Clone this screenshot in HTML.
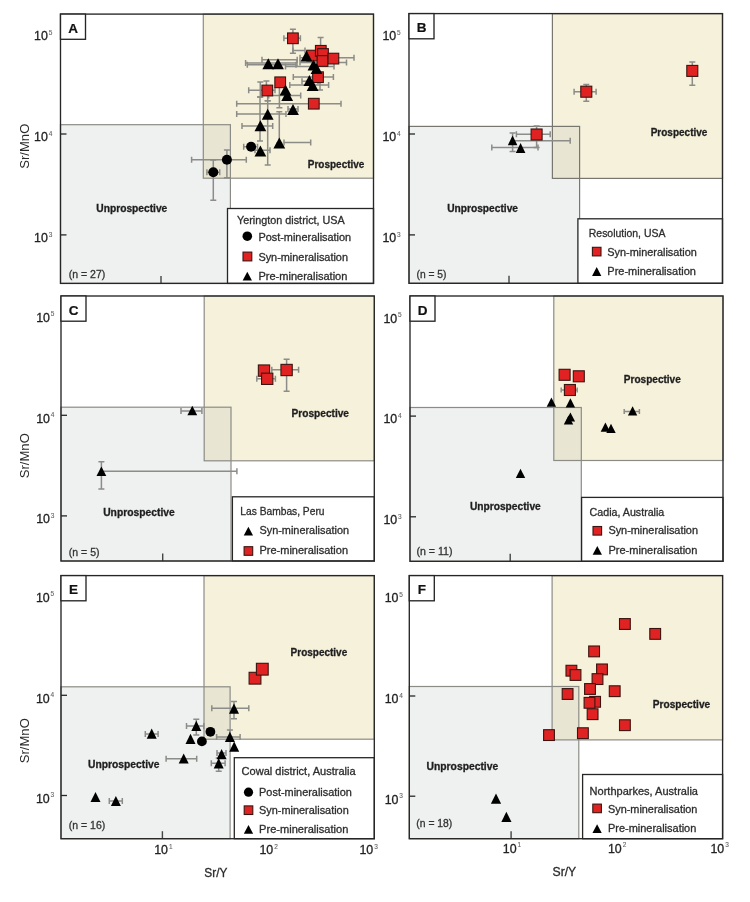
<!DOCTYPE html><html><head><meta charset="utf-8"><style>html,body{margin:0;padding:0;background:#fff;}svg{display:block;filter:blur(0.3px);}</style></head><body><svg width="750" height="902" viewBox="0 0 750 902" font-family='"Liberation Sans", sans-serif'>
<rect width="750" height="902" fill="#fff"/>
<rect x="203.3" y="14.1" width="170.2" height="164.1" fill="#f6f1db"/>
<rect x="60.5" y="124.7" width="169.9" height="158.7" fill="#eff0f0"/>
<rect x="203.3" y="124.7" width="27.099999999999994" height="53.499999999999986" fill="#e8e5d3"/>
<rect x="203.3" y="14.1" width="170.2" height="164.1" fill="none" stroke="#8c8c86" stroke-width="1.2"/>
<rect x="60.5" y="124.7" width="169.9" height="158.7" fill="none" stroke="#8c8c86" stroke-width="1.2"/>
<rect x="552.4" y="13.6" width="170.10000000000002" height="164.8" fill="#f6f1db"/>
<rect x="409" y="126.4" width="170.60000000000002" height="156.9" fill="#eff0f0"/>
<rect x="552.4" y="126.4" width="27.200000000000045" height="52.0" fill="#e8e5d3"/>
<rect x="552.4" y="13.6" width="170.10000000000002" height="164.8" fill="none" stroke="#77776f" stroke-width="1.2"/>
<rect x="409" y="126.4" width="170.60000000000002" height="156.9" fill="none" stroke="#77776f" stroke-width="1.2"/>
<rect x="204.2" y="296" width="170.10000000000002" height="164.8" fill="#f6f1db"/>
<rect x="61" y="407.2" width="170" height="153.8" fill="#eff0f0"/>
<rect x="204.2" y="407.2" width="26.80000000000001" height="53.60000000000002" fill="#e8e5d3"/>
<rect x="204.2" y="296" width="170.10000000000002" height="164.8" fill="none" stroke="#8c8c86" stroke-width="1.2"/>
<rect x="61" y="407.2" width="170" height="153.8" fill="none" stroke="#8c8c86" stroke-width="1.2"/>
<rect x="553.8" y="296" width="169.20000000000005" height="164.5" fill="#f6f1db"/>
<rect x="410" y="407.5" width="171.29999999999995" height="153.79999999999995" fill="#eff0f0"/>
<rect x="553.8" y="407.5" width="27.5" height="53.0" fill="#e8e5d3"/>
<rect x="553.8" y="296" width="169.20000000000005" height="164.5" fill="none" stroke="#8c8c86" stroke-width="1.2"/>
<rect x="410" y="407.5" width="171.29999999999995" height="153.79999999999995" fill="none" stroke="#8c8c86" stroke-width="1.2"/>
<rect x="204" y="575.6" width="170.3" height="163.60000000000002" fill="#f6f1db"/>
<rect x="61" y="686.8" width="169.1" height="151.9000000000001" fill="#eff0f0"/>
<rect x="204" y="686.8" width="26.099999999999994" height="52.40000000000009" fill="#e8e5d3"/>
<rect x="204" y="575.6" width="170.3" height="163.60000000000002" fill="none" stroke="#8c8c86" stroke-width="1.2"/>
<rect x="61" y="686.8" width="169.1" height="151.9000000000001" fill="none" stroke="#8c8c86" stroke-width="1.2"/>
<rect x="552.1" y="575.6" width="170.5" height="164.29999999999995" fill="#f6f1db"/>
<rect x="409.3" y="686.5" width="169.49999999999994" height="152.20000000000005" fill="#eff0f0"/>
<rect x="552.1" y="686.5" width="26.699999999999932" height="53.39999999999998" fill="#e8e5d3"/>
<rect x="552.1" y="575.6" width="170.5" height="164.29999999999995" fill="none" stroke="#8c8c86" stroke-width="1.2"/>
<rect x="409.3" y="686.5" width="169.49999999999994" height="152.20000000000005" fill="none" stroke="#8c8c86" stroke-width="1.2"/>
<path d="M283.9 38.3H300.4M283.9 35.3V41.3M300.4 35.3V41.3" stroke="#8c8c88" stroke-width="1.5" fill="none"/>
<path d="M245.6 63.0H297M245.6 60.0V66.0M297 60.0V66.0" stroke="#8c8c88" stroke-width="1.5" fill="none"/>
<path d="M247.3 64.7H296M247.3 61.7V67.7M296 61.7V67.7" stroke="#8c8c88" stroke-width="1.5" fill="none"/>
<path d="M262 59.7H297.2M262 56.7V62.7M297.2 56.7V62.7" stroke="#8c8c88" stroke-width="1.5" fill="none"/>
<path d="M285.5 66.5H334M285.5 63.5V69.5M334 63.5V69.5" stroke="#8c8c88" stroke-width="1.5" fill="none"/>
<path d="M300 57.8H354M300 54.8V60.8M354 54.8V60.8" stroke="#8c8c88" stroke-width="1.5" fill="none"/>
<path d="M300 62.5H346.5M300 59.5V65.5M346.5 59.5V65.5" stroke="#8c8c88" stroke-width="1.5" fill="none"/>
<path d="M293.3 77H333.4M293.3 74V80M333.4 74V80" stroke="#8c8c88" stroke-width="1.5" fill="none"/>
<path d="M302 81.2H318M302 78.2V84.2M318 78.2V84.2" stroke="#8c8c88" stroke-width="1.5" fill="none"/>
<path d="M289.8 85H328.6M289.8 82V88M328.6 82V88" stroke="#8c8c88" stroke-width="1.5" fill="none"/>
<path d="M248.7 90.3H275M248.7 87.3V93.3M275 87.3V93.3" stroke="#8c8c88" stroke-width="1.5" fill="none"/>
<path d="M268.7 95.4H300.7M268.7 92.4V98.4M300.7 92.4V98.4" stroke="#8c8c88" stroke-width="1.5" fill="none"/>
<path d="M236.7 103.7H341M236.7 100.7V106.7M341 100.7V106.7" stroke="#8c8c88" stroke-width="1.5" fill="none"/>
<path d="M236.7 114H286M236.7 111V117M286 111V117" stroke="#8c8c88" stroke-width="1.5" fill="none"/>
<path d="M242 126H272.7M242 123V129M272.7 123V129" stroke="#8c8c88" stroke-width="1.5" fill="none"/>
<path d="M284 142.6H310.7M284 139.6V145.6M310.7 139.6V145.6" stroke="#8c8c88" stroke-width="1.5" fill="none"/>
<path d="M191.6 159.7H246.3M191.6 156.7V162.7M246.3 156.7V162.7" stroke="#8c8c88" stroke-width="1.5" fill="none"/>
<path d="M206.9 172.3H219.7M206.9 169.3V175.3M219.7 169.3V175.3" stroke="#8c8c88" stroke-width="1.5" fill="none"/>
<path d="M243.7 146.7H257.5M243.7 143.7V149.7M257.5 143.7V149.7" stroke="#8c8c88" stroke-width="1.5" fill="none"/>
<path d="M255 150.3H270M255 147.3V153.3M270 147.3V153.3" stroke="#8c8c88" stroke-width="1.5" fill="none"/>
<path d="M288 109H298M288 106V112M298 106V112" stroke="#8c8c88" stroke-width="1.5" fill="none"/>
<path d="M293 50.6H305M293 47.6V53.6M305 47.6V53.6" stroke="#8c8c88" stroke-width="1.5" fill="none"/>
<path d="M292.9 29.3V53.3M289.9 29.3H295.9M289.9 53.3H295.9" stroke="#8c8c88" stroke-width="1.5" fill="none"/>
<path d="M320.6 37.5V52M317.6 37.5H323.6M317.6 52H323.6" stroke="#8c8c88" stroke-width="1.5" fill="none"/>
<path d="M279.4 81V107.7M276.4 81H282.4M276.4 107.7H282.4" stroke="#8c8c88" stroke-width="1.5" fill="none"/>
<path d="M267.7 90V100.7M264.7 90H270.7M264.7 100.7H270.7" stroke="#8c8c88" stroke-width="1.5" fill="none"/>
<path d="M266.4 81V92M263.4 81H269.4M263.4 92H269.4" stroke="#8c8c88" stroke-width="1.5" fill="none"/>
<path d="M267.7 100.7V165M264.7 100.7H270.7M264.7 165H270.7" stroke="#8c8c88" stroke-width="1.5" fill="none"/>
<path d="M260 97V141M257 97H263M257 141H263" stroke="#8c8c88" stroke-width="1.5" fill="none"/>
<path d="M279.3 111.7V143M276.3 111.7H282.3M276.3 143H282.3" stroke="#8c8c88" stroke-width="1.5" fill="none"/>
<path d="M213.3 160V200.3M210.3 160H216.3M210.3 200.3H216.3" stroke="#8c8c88" stroke-width="1.5" fill="none"/>
<path d="M226.9 149.9V177.7M223.9 149.9H229.9M223.9 177.7H229.9" stroke="#8c8c88" stroke-width="1.5" fill="none"/>
<path d="M320 82V90M317 82H323M317 90H323" stroke="#8c8c88" stroke-width="1.5" fill="none"/>
<path d="M260.3 82V97M257.3 82H263.3M257.3 97H263.3" stroke="#8c8c88" stroke-width="1.5" fill="none"/>
<circle cx="213.3" cy="172.3" r="5" fill="#000"/>
<circle cx="226.9" cy="159.7" r="5" fill="#000"/>
<circle cx="251.1" cy="146.7" r="5" fill="#000"/>
<rect x="287.54999999999995" y="32.949999999999996" width="10.7" height="10.7" fill="#e02322" stroke="#3a1410" stroke-width="1.1"/>
<rect x="274.84999999999997" y="76.95" width="10.7" height="10.7" fill="#e02322" stroke="#3a1410" stroke-width="1.1"/>
<rect x="261.95" y="85.15" width="10.7" height="10.7" fill="#e02322" stroke="#3a1410" stroke-width="1.1"/>
<rect x="308.45" y="98.35000000000001" width="10.7" height="10.7" fill="#e02322" stroke="#3a1410" stroke-width="1.1"/>
<rect x="312.65" y="71.85000000000001" width="10.7" height="10.7" fill="#e02322" stroke="#3a1410" stroke-width="1.1"/>
<rect x="306.75" y="50.25" width="10.7" height="10.7" fill="#e02322" stroke="#3a1410" stroke-width="1.1"/>
<rect x="315.45" y="45.449999999999996" width="10.7" height="10.7" fill="#e02322" stroke="#3a1410" stroke-width="1.1"/>
<rect x="317.65" y="48.65" width="10.7" height="10.7" fill="#e02322" stroke="#3a1410" stroke-width="1.1"/>
<rect x="317.15" y="55.65" width="10.7" height="10.7" fill="#e02322" stroke="#3a1410" stroke-width="1.1"/>
<rect x="328.04999999999995" y="53.25" width="10.7" height="10.7" fill="#e02322" stroke="#3a1410" stroke-width="1.1"/>
<polygon points="262.40000000000003,69.2 274.2,69.2 268.3,58.2" fill="#000"/>
<polygon points="272.1,69.2 283.9,69.2 278,58.2" fill="#000"/>
<polygon points="300.6,61.5 312.4,61.5 306.5,50.5" fill="#000"/>
<polygon points="307.6,70.5 319.4,70.5 313.5,59.5" fill="#000"/>
<polygon points="310.6,74.0 322.4,74.0 316.5,63.0" fill="#000"/>
<polygon points="303.5,86.0 315.29999999999995,86.0 309.4,75.0" fill="#000"/>
<polygon points="306.70000000000005,90.9 318.5,90.9 312.6,79.9" fill="#000"/>
<polygon points="279.6,95.5 291.4,95.5 285.5,84.5" fill="#000"/>
<polygon points="281.3,101.0 293.09999999999997,101.0 287.2,90.0" fill="#000"/>
<polygon points="287.1,115.0 298.9,115.0 293,104.0" fill="#000"/>
<polygon points="261.8,119.8 273.59999999999997,119.8 267.7,108.8" fill="#000"/>
<polygon points="254.49999999999997,131.3 266.29999999999995,131.3 260.4,120.3" fill="#000"/>
<polygon points="254.49999999999997,156.5 266.29999999999995,156.5 260.4,145.5" fill="#000"/>
<polygon points="273.40000000000003,148.5 285.2,148.5 279.3,137.5" fill="#000"/>
<path d="M574.1 91.7H596.1M574.1 88.7V94.7M596.1 88.7V94.7" stroke="#8c8c88" stroke-width="1.5" fill="none"/>
<path d="M516.4 134.2H550.2M516.4 131.2V137.2M550.2 131.2V137.2" stroke="#8c8c88" stroke-width="1.5" fill="none"/>
<path d="M512 140.8H570.2M512 137.8V143.8M570.2 137.8V143.8" stroke="#8c8c88" stroke-width="1.5" fill="none"/>
<path d="M491.8 147.4H538M491.8 144.4V150.4M538 144.4V150.4" stroke="#8c8c88" stroke-width="1.5" fill="none"/>
<path d="M586.3 84.5V101.3M583.3 84.5H589.3M583.3 101.3H589.3" stroke="#8c8c88" stroke-width="1.5" fill="none"/>
<path d="M692.3 62.1V85.2M689.3 62.1H695.3M689.3 85.2H695.3" stroke="#8c8c88" stroke-width="1.5" fill="none"/>
<path d="M536.6 126V147.4M533.6 126H539.6M533.6 147.4H539.6" stroke="#8c8c88" stroke-width="1.5" fill="none"/>
<path d="M512.6 133V151.6M509.6 133H515.6M509.6 151.6H515.6" stroke="#8c8c88" stroke-width="1.5" fill="none"/>
<rect x="580.8" y="86.2" width="11" height="11" fill="#e02322" stroke="#3a1410" stroke-width="1.1"/>
<rect x="686.8" y="65.4" width="11" height="11" fill="#e02322" stroke="#3a1410" stroke-width="1.1"/>
<rect x="531.1" y="129.0" width="11" height="11" fill="#e02322" stroke="#3a1410" stroke-width="1.1"/>
<polygon points="507.8,145.20000000000002 517.4,145.20000000000002 512.6,135.4" fill="#000"/>
<polygon points="515.8000000000001,152.9 525.4,152.9 520.6,143.1" fill="#000"/>
<path d="M256.8 378.8H275.4M256.8 375.8V381.8M275.4 375.8V381.8" stroke="#8c8c88" stroke-width="1.5" fill="none"/>
<path d="M271.8 369.8H298.6M271.8 366.8V372.8M298.6 366.8V372.8" stroke="#8c8c88" stroke-width="1.5" fill="none"/>
<path d="M181 411H201.9M181 408V414M201.9 408V414" stroke="#8c8c88" stroke-width="1.5" fill="none"/>
<path d="M101 471.2H236.9M101 468.2V474.2M236.9 468.2V474.2" stroke="#8c8c88" stroke-width="1.5" fill="none"/>
<path d="M286.6 359.2V391.2M283.6 359.2H289.6M283.6 391.2H289.6" stroke="#8c8c88" stroke-width="1.5" fill="none"/>
<path d="M101.4 461.8V488.9M98.4 461.8H104.4M98.4 488.9H104.4" stroke="#8c8c88" stroke-width="1.5" fill="none"/>
<rect x="258.35" y="364.95000000000005" width="11.3" height="11.3" fill="#e02322" stroke="#3a1410" stroke-width="1.1"/>
<rect x="261.55" y="373.15000000000003" width="11.3" height="11.3" fill="#e02322" stroke="#3a1410" stroke-width="1.1"/>
<rect x="280.95000000000005" y="364.35" width="11.3" height="11.3" fill="#e02322" stroke="#3a1410" stroke-width="1.1"/>
<polygon points="187.4,415.3 197.20000000000002,415.3 192.3,405.7" fill="#000"/>
<polygon points="96.5,476.1 106.30000000000001,476.1 101.4,466.5" fill="#000"/>
<path d="M561.2 390H577.2M561.2 387.5V392.5M577.2 387.5V392.5" stroke="#8c8c88" stroke-width="1.5" fill="none"/>
<path d="M624.2 411.4H639.4M624.2 408.9V413.9M639.4 408.9V413.9" stroke="#8c8c88" stroke-width="1.5" fill="none"/>
<rect x="559.1" y="369.3" width="11" height="11" fill="#e02322" stroke="#3a1410" stroke-width="1.1"/>
<rect x="573.3" y="370.8" width="11" height="11" fill="#e02322" stroke="#3a1410" stroke-width="1.1"/>
<rect x="564.4" y="384.5" width="11" height="11" fill="#e02322" stroke="#3a1410" stroke-width="1.1"/>
<polygon points="546.6999999999999,406.70000000000005 556.1,406.70000000000005 551.4,397.5" fill="#000"/>
<polygon points="565.6999999999999,407.5 575.1,407.5 570.4,398.29999999999995" fill="#000"/>
<polygon points="565.6999999999999,421.6 575.1,421.6 570.4,412.4" fill="#000"/>
<polygon points="563.8,424.6 573.2,424.6 568.5,415.4" fill="#000"/>
<polygon points="627.9,415.40000000000003 637.3000000000001,415.40000000000003 632.6,406.2" fill="#000"/>
<polygon points="600.6999999999999,431.8 610.1,431.8 605.4,422.59999999999997" fill="#000"/>
<polygon points="606.3,433.0 615.7,433.0 611,423.79999999999995" fill="#000"/>
<polygon points="515.8,477.90000000000003 525.2,477.90000000000003 520.5,468.7" fill="#000"/>
<path d="M211.8 708.3H248.8M211.8 705.3V711.3M248.8 705.3V711.3" stroke="#8c8c88" stroke-width="1.5" fill="none"/>
<path d="M186.5 726.1H203.8M186.5 723.1V729.1M203.8 723.1V729.1" stroke="#8c8c88" stroke-width="1.5" fill="none"/>
<path d="M216.6 737.1H240.1M216.6 734.1V740.1M240.1 734.1V740.1" stroke="#8c8c88" stroke-width="1.5" fill="none"/>
<path d="M217 753H226M217 750V756M226 750V756" stroke="#8c8c88" stroke-width="1.5" fill="none"/>
<path d="M211.3 763.3H225.1M211.3 760.3V766.3M225.1 760.3V766.3" stroke="#8c8c88" stroke-width="1.5" fill="none"/>
<path d="M166.1 758.7H196.7M166.1 755.7V761.7M196.7 755.7V761.7" stroke="#8c8c88" stroke-width="1.5" fill="none"/>
<path d="M145.3 733.9H158.1M145.3 730.9V736.9M158.1 730.9V736.9" stroke="#8c8c88" stroke-width="1.5" fill="none"/>
<path d="M109.3 801H122.3M109.3 798V804M122.3 798V804" stroke="#8c8c88" stroke-width="1.5" fill="none"/>
<path d="M234 701.4V718.7M231 701.4H237M231 718.7H237" stroke="#8c8c88" stroke-width="1.5" fill="none"/>
<path d="M196.3 719.3V735M193.3 719.3H199.3M193.3 735H199.3" stroke="#8c8c88" stroke-width="1.5" fill="none"/>
<path d="M218.7 758V771.3M215.7 758H221.7M215.7 771.3H221.7" stroke="#8c8c88" stroke-width="1.5" fill="none"/>
<path d="M229.9 730V737M226.9 730H232.9M226.9 737H232.9" stroke="#8c8c88" stroke-width="1.5" fill="none"/>
<rect x="249.1" y="672.3000000000001" width="11.8" height="11.8" fill="#e02322" stroke="#3a1410" stroke-width="1.1"/>
<rect x="256.40000000000003" y="663.3000000000001" width="11.8" height="11.8" fill="#e02322" stroke="#3a1410" stroke-width="1.1"/>
<circle cx="210.4" cy="731.8" r="4.9" fill="#000"/>
<circle cx="201.9" cy="741.4" r="4.9" fill="#000"/>
<polygon points="229.0,713.7 239.0,713.7 234,703.5" fill="#000"/>
<polygon points="191.3,731.0 201.3,731.0 196.3,720.8" fill="#000"/>
<polygon points="185.5,744.0 195.5,744.0 190.5,733.8" fill="#000"/>
<polygon points="224.9,741.9 234.9,741.9 229.9,731.6999999999999" fill="#000"/>
<polygon points="229.2,751.8000000000001 239.2,751.8000000000001 234.2,741.6" fill="#000"/>
<polygon points="216.6,759.3000000000001 226.6,759.3000000000001 221.6,749.1" fill="#000"/>
<polygon points="213.7,768.4 223.7,768.4 218.7,758.1999999999999" fill="#000"/>
<polygon points="178.7,763.6 188.7,763.6 183.7,753.4" fill="#000"/>
<polygon points="146.7,738.7 156.7,738.7 151.7,728.5" fill="#000"/>
<polygon points="90.5,802.1 100.5,802.1 95.5,791.9" fill="#000"/>
<polygon points="110.9,806.1 120.9,806.1 115.9,795.9" fill="#000"/>
<rect x="619.5" y="618.6" width="10.8" height="10.8" fill="#e02322" stroke="#3a1410" stroke-width="1.1"/>
<rect x="649.8000000000001" y="628.5" width="10.8" height="10.8" fill="#e02322" stroke="#3a1410" stroke-width="1.1"/>
<rect x="588.7" y="646.0" width="10.8" height="10.8" fill="#e02322" stroke="#3a1410" stroke-width="1.1"/>
<rect x="566.0" y="665.3000000000001" width="10.8" height="10.8" fill="#e02322" stroke="#3a1410" stroke-width="1.1"/>
<rect x="570.1" y="669.6" width="10.8" height="10.8" fill="#e02322" stroke="#3a1410" stroke-width="1.1"/>
<rect x="596.6" y="664.0" width="10.8" height="10.8" fill="#e02322" stroke="#3a1410" stroke-width="1.1"/>
<rect x="592.1" y="673.7" width="10.8" height="10.8" fill="#e02322" stroke="#3a1410" stroke-width="1.1"/>
<rect x="584.6" y="683.6" width="10.8" height="10.8" fill="#e02322" stroke="#3a1410" stroke-width="1.1"/>
<rect x="609.3000000000001" y="685.8000000000001" width="10.8" height="10.8" fill="#e02322" stroke="#3a1410" stroke-width="1.1"/>
<rect x="562.2" y="688.6" width="10.8" height="10.8" fill="#e02322" stroke="#3a1410" stroke-width="1.1"/>
<rect x="589.7" y="696.4" width="10.8" height="10.8" fill="#e02322" stroke="#3a1410" stroke-width="1.1"/>
<rect x="584.1" y="697.4" width="10.8" height="10.8" fill="#e02322" stroke="#3a1410" stroke-width="1.1"/>
<rect x="587.2" y="708.8000000000001" width="10.8" height="10.8" fill="#e02322" stroke="#3a1410" stroke-width="1.1"/>
<rect x="619.5" y="719.8000000000001" width="10.8" height="10.8" fill="#e02322" stroke="#3a1410" stroke-width="1.1"/>
<rect x="543.6" y="729.7" width="10.8" height="10.8" fill="#e02322" stroke="#3a1410" stroke-width="1.1"/>
<rect x="577.5" y="727.8000000000001" width="10.8" height="10.8" fill="#e02322" stroke="#3a1410" stroke-width="1.1"/>
<polygon points="490.9,803.7 501.1,803.7 496,793.5" fill="#000"/>
<polygon points="501.29999999999995,822.0 511.5,822.0 506.4,811.8" fill="#000"/>
<line x1="60.5" y1="33.1" x2="66.5" y2="33.1" stroke="#262626" stroke-width="1.3"/>
<line x1="60.5" y1="134" x2="66.5" y2="134" stroke="#262626" stroke-width="1.3"/>
<line x1="60.5" y1="234.9" x2="66.5" y2="234.9" stroke="#262626" stroke-width="1.3"/>
<line x1="161" y1="283.4" x2="161" y2="275.9" stroke="#444" stroke-width="1.4"/>
<rect x="227.5" y="208.5" width="146.0" height="74.89999999999998" fill="#fff" stroke="#262626" stroke-width="1.3"/>
<rect x="60.5" y="14.1" width="313.0" height="269.29999999999995" fill="none" stroke="#262626" stroke-width="1.35"/>
<rect x="60.5" y="14.1" width="25" height="25.2" fill="#fff" stroke="#262626" stroke-width="1.35"/>
<text x="73.1" y="32.7" font-size="13.5" font-weight="bold" fill="#111" stroke="#111" stroke-width="0.2" text-anchor="middle">A</text>
<text x="34.1" y="40.4" font-size="12.8" fill="#222" stroke="#222" stroke-width="0.3" textLength="13.8" lengthAdjust="spacingAndGlyphs" text-anchor="start">10</text>
<text x="48.7" y="34.9" font-size="6.5" fill="#666" stroke="#666" stroke-width="0.1" text-anchor="start">5</text>
<text x="34.1" y="141.3" font-size="12.8" fill="#222" stroke="#222" stroke-width="0.3" textLength="13.8" lengthAdjust="spacingAndGlyphs" text-anchor="start">10</text>
<text x="48.7" y="135.8" font-size="6.5" fill="#666" stroke="#666" stroke-width="0.1" text-anchor="start">4</text>
<text x="34.1" y="242.20000000000002" font-size="12.8" fill="#222" stroke="#222" stroke-width="0.3" textLength="13.8" lengthAdjust="spacingAndGlyphs" text-anchor="start">10</text>
<text x="48.7" y="236.70000000000002" font-size="6.5" fill="#666" stroke="#666" stroke-width="0.1" text-anchor="start">3</text>
<line x1="409" y1="33.1" x2="415" y2="33.1" stroke="#262626" stroke-width="1.3"/>
<line x1="409" y1="134" x2="415" y2="134" stroke="#262626" stroke-width="1.3"/>
<line x1="409" y1="234.9" x2="415" y2="234.9" stroke="#262626" stroke-width="1.3"/>
<line x1="509" y1="283.3" x2="509" y2="275.8" stroke="#444" stroke-width="1.4"/>
<rect x="577.9" y="218.8" width="144.60000000000002" height="64.5" fill="#fff" stroke="#262626" stroke-width="1.3"/>
<rect x="409" y="13.6" width="313.5" height="269.7" fill="none" stroke="#262626" stroke-width="1.35"/>
<rect x="409" y="13.6" width="25" height="25.2" fill="#fff" stroke="#262626" stroke-width="1.35"/>
<text x="421.6" y="32.2" font-size="13.5" font-weight="bold" fill="#111" stroke="#111" stroke-width="0.2" text-anchor="middle">B</text>
<text x="382.4" y="40.4" font-size="12.8" fill="#222" stroke="#222" stroke-width="0.3" textLength="13.8" lengthAdjust="spacingAndGlyphs" text-anchor="start">10</text>
<text x="397" y="34.9" font-size="6.5" fill="#666" stroke="#666" stroke-width="0.1" text-anchor="start">5</text>
<text x="382.4" y="141.3" font-size="12.8" fill="#222" stroke="#222" stroke-width="0.3" textLength="13.8" lengthAdjust="spacingAndGlyphs" text-anchor="start">10</text>
<text x="397" y="135.8" font-size="6.5" fill="#666" stroke="#666" stroke-width="0.1" text-anchor="start">4</text>
<text x="382.4" y="242.20000000000002" font-size="12.8" fill="#222" stroke="#222" stroke-width="0.3" textLength="13.8" lengthAdjust="spacingAndGlyphs" text-anchor="start">10</text>
<text x="397" y="236.70000000000002" font-size="6.5" fill="#666" stroke="#666" stroke-width="0.1" text-anchor="start">3</text>
<line x1="61" y1="314.6" x2="67" y2="314.6" stroke="#262626" stroke-width="1.3"/>
<line x1="61" y1="415.3" x2="67" y2="415.3" stroke="#262626" stroke-width="1.3"/>
<line x1="61" y1="515.9" x2="67" y2="515.9" stroke="#262626" stroke-width="1.3"/>
<line x1="162.7" y1="561" x2="162.7" y2="553.5" stroke="#444" stroke-width="1.4"/>
<rect x="232.4" y="496.8" width="141.9" height="64.19999999999999" fill="#fff" stroke="#262626" stroke-width="1.3"/>
<rect x="61" y="296" width="313.3" height="265" fill="none" stroke="#262626" stroke-width="1.35"/>
<rect x="61" y="296" width="25" height="25.2" fill="#fff" stroke="#262626" stroke-width="1.35"/>
<text x="73.6" y="314.6" font-size="13.5" font-weight="bold" fill="#111" stroke="#111" stroke-width="0.2" text-anchor="middle">C</text>
<text x="36.199999999999996" y="321.90000000000003" font-size="12.8" fill="#222" stroke="#222" stroke-width="0.3" textLength="13.8" lengthAdjust="spacingAndGlyphs" text-anchor="start">10</text>
<text x="50.8" y="316.40000000000003" font-size="6.5" fill="#666" stroke="#666" stroke-width="0.1" text-anchor="start">5</text>
<text x="36.199999999999996" y="422.6" font-size="12.8" fill="#222" stroke="#222" stroke-width="0.3" textLength="13.8" lengthAdjust="spacingAndGlyphs" text-anchor="start">10</text>
<text x="50.8" y="417.1" font-size="6.5" fill="#666" stroke="#666" stroke-width="0.1" text-anchor="start">4</text>
<text x="36.199999999999996" y="523.1999999999999" font-size="12.8" fill="#222" stroke="#222" stroke-width="0.3" textLength="13.8" lengthAdjust="spacingAndGlyphs" text-anchor="start">10</text>
<text x="50.8" y="517.6999999999999" font-size="6.5" fill="#666" stroke="#666" stroke-width="0.1" text-anchor="start">3</text>
<line x1="410" y1="315.2" x2="416" y2="315.2" stroke="#262626" stroke-width="1.3"/>
<line x1="410" y1="416.1" x2="416" y2="416.1" stroke="#262626" stroke-width="1.3"/>
<line x1="410" y1="516.8" x2="416" y2="516.8" stroke="#262626" stroke-width="1.3"/>
<line x1="510.2" y1="561.3" x2="510.2" y2="553.8" stroke="#444" stroke-width="1.4"/>
<rect x="581.6" y="497.4" width="141.39999999999998" height="63.89999999999998" fill="#fff" stroke="#262626" stroke-width="1.3"/>
<rect x="410" y="296" width="313" height="265.29999999999995" fill="none" stroke="#262626" stroke-width="1.35"/>
<rect x="410" y="296" width="25" height="25.2" fill="#fff" stroke="#262626" stroke-width="1.35"/>
<text x="422.6" y="314.6" font-size="13.5" font-weight="bold" fill="#111" stroke="#111" stroke-width="0.2" text-anchor="middle">D</text>
<text x="383.4" y="322.5" font-size="12.8" fill="#222" stroke="#222" stroke-width="0.3" textLength="13.8" lengthAdjust="spacingAndGlyphs" text-anchor="start">10</text>
<text x="398" y="317.0" font-size="6.5" fill="#666" stroke="#666" stroke-width="0.1" text-anchor="start">5</text>
<text x="383.4" y="423.40000000000003" font-size="12.8" fill="#222" stroke="#222" stroke-width="0.3" textLength="13.8" lengthAdjust="spacingAndGlyphs" text-anchor="start">10</text>
<text x="398" y="417.90000000000003" font-size="6.5" fill="#666" stroke="#666" stroke-width="0.1" text-anchor="start">4</text>
<text x="383.4" y="524.0999999999999" font-size="12.8" fill="#222" stroke="#222" stroke-width="0.3" textLength="13.8" lengthAdjust="spacingAndGlyphs" text-anchor="start">10</text>
<text x="398" y="518.5999999999999" font-size="6.5" fill="#666" stroke="#666" stroke-width="0.1" text-anchor="start">3</text>
<line x1="61" y1="594.5" x2="67" y2="594.5" stroke="#262626" stroke-width="1.3"/>
<line x1="61" y1="695.3" x2="67" y2="695.3" stroke="#262626" stroke-width="1.3"/>
<line x1="61" y1="795.5" x2="67" y2="795.5" stroke="#262626" stroke-width="1.3"/>
<line x1="162.4" y1="838.7" x2="162.4" y2="831.2" stroke="#444" stroke-width="1.4"/>
<rect x="234.3" y="757.7" width="140.0" height="81.0" fill="#fff" stroke="#262626" stroke-width="1.3"/>
<rect x="61" y="575.6" width="313.3" height="263.1" fill="none" stroke="#262626" stroke-width="1.35"/>
<rect x="61" y="575.6" width="25" height="25.2" fill="#fff" stroke="#262626" stroke-width="1.35"/>
<text x="73.6" y="594.2" font-size="13.5" font-weight="bold" fill="#111" stroke="#111" stroke-width="0.2" text-anchor="middle">E</text>
<text x="35.9" y="601.8" font-size="12.8" fill="#222" stroke="#222" stroke-width="0.3" textLength="13.8" lengthAdjust="spacingAndGlyphs" text-anchor="start">10</text>
<text x="50.5" y="596.3" font-size="6.5" fill="#666" stroke="#666" stroke-width="0.1" text-anchor="start">5</text>
<text x="35.9" y="702.5999999999999" font-size="12.8" fill="#222" stroke="#222" stroke-width="0.3" textLength="13.8" lengthAdjust="spacingAndGlyphs" text-anchor="start">10</text>
<text x="50.5" y="697.0999999999999" font-size="6.5" fill="#666" stroke="#666" stroke-width="0.1" text-anchor="start">4</text>
<text x="35.9" y="802.8" font-size="12.8" fill="#222" stroke="#222" stroke-width="0.3" textLength="13.8" lengthAdjust="spacingAndGlyphs" text-anchor="start">10</text>
<text x="50.5" y="797.3" font-size="6.5" fill="#666" stroke="#666" stroke-width="0.1" text-anchor="start">3</text>
<line x1="409.3" y1="595" x2="415.3" y2="595" stroke="#262626" stroke-width="1.3"/>
<line x1="409.3" y1="696" x2="415.3" y2="696" stroke="#262626" stroke-width="1.3"/>
<line x1="409.3" y1="796.2" x2="415.3" y2="796.2" stroke="#262626" stroke-width="1.3"/>
<line x1="511.1" y1="838.7" x2="511.1" y2="831.2" stroke="#444" stroke-width="1.4"/>
<rect x="582.6" y="774.5" width="140.0" height="64.20000000000005" fill="#fff" stroke="#262626" stroke-width="1.3"/>
<rect x="409.3" y="575.6" width="313.3" height="263.1" fill="none" stroke="#262626" stroke-width="1.35"/>
<rect x="409.3" y="575.6" width="25" height="25.2" fill="#fff" stroke="#262626" stroke-width="1.35"/>
<text x="421.90000000000003" y="594.2" font-size="13.5" font-weight="bold" fill="#111" stroke="#111" stroke-width="0.2" text-anchor="middle">F</text>
<text x="384.7" y="602.3" font-size="12.8" fill="#222" stroke="#222" stroke-width="0.3" textLength="13.8" lengthAdjust="spacingAndGlyphs" text-anchor="start">10</text>
<text x="399.3" y="596.8" font-size="6.5" fill="#666" stroke="#666" stroke-width="0.1" text-anchor="start">5</text>
<text x="384.7" y="703.3" font-size="12.8" fill="#222" stroke="#222" stroke-width="0.3" textLength="13.8" lengthAdjust="spacingAndGlyphs" text-anchor="start">10</text>
<text x="399.3" y="697.8" font-size="6.5" fill="#666" stroke="#666" stroke-width="0.1" text-anchor="start">4</text>
<text x="384.7" y="803.5" font-size="12.8" fill="#222" stroke="#222" stroke-width="0.3" textLength="13.8" lengthAdjust="spacingAndGlyphs" text-anchor="start">10</text>
<text x="399.3" y="798.0" font-size="6.5" fill="#666" stroke="#666" stroke-width="0.1" text-anchor="start">3</text>
<text x="307.8" y="167.8" font-size="10.2" font-weight="bold" fill="#1e1e1e" stroke="#1e1e1e" stroke-width="0.3" textLength="56.6" lengthAdjust="spacingAndGlyphs" text-anchor="start">Prospective</text>
<text x="96.3" y="211.7" font-size="10.2" font-weight="bold" fill="#1e1e1e" stroke="#1e1e1e" stroke-width="0.3" textLength="71" lengthAdjust="spacingAndGlyphs" text-anchor="start">Unprospective</text>
<text x="650.7" y="136" font-size="10.2" font-weight="bold" fill="#1e1e1e" stroke="#1e1e1e" stroke-width="0.3" textLength="56.7" lengthAdjust="spacingAndGlyphs" text-anchor="start">Prospective</text>
<text x="447.2" y="211.6" font-size="10.2" font-weight="bold" fill="#1e1e1e" stroke="#1e1e1e" stroke-width="0.3" textLength="70.8" lengthAdjust="spacingAndGlyphs" text-anchor="start">Unprospective</text>
<text x="291.6" y="417.2" font-size="10.2" font-weight="bold" fill="#1e1e1e" stroke="#1e1e1e" stroke-width="0.3" textLength="57.4" lengthAdjust="spacingAndGlyphs" text-anchor="start">Prospective</text>
<text x="103.2" y="516" font-size="10.2" font-weight="bold" fill="#1e1e1e" stroke="#1e1e1e" stroke-width="0.3" textLength="71.5" lengthAdjust="spacingAndGlyphs" text-anchor="start">Unprospective</text>
<text x="623.8" y="383" font-size="10.2" font-weight="bold" fill="#1e1e1e" stroke="#1e1e1e" stroke-width="0.3" textLength="57" lengthAdjust="spacingAndGlyphs" text-anchor="start">Prospective</text>
<text x="469.9" y="509.9" font-size="10.2" font-weight="bold" fill="#1e1e1e" stroke="#1e1e1e" stroke-width="0.3" textLength="70.9" lengthAdjust="spacingAndGlyphs" text-anchor="start">Unprospective</text>
<text x="290.6" y="655.6" font-size="10.2" font-weight="bold" fill="#1e1e1e" stroke="#1e1e1e" stroke-width="0.3" textLength="56.6" lengthAdjust="spacingAndGlyphs" text-anchor="start">Prospective</text>
<text x="88" y="767.5" font-size="10.2" font-weight="bold" fill="#1e1e1e" stroke="#1e1e1e" stroke-width="0.3" textLength="71.5" lengthAdjust="spacingAndGlyphs" text-anchor="start">Unprospective</text>
<text x="652.8" y="708.1" font-size="10.2" font-weight="bold" fill="#1e1e1e" stroke="#1e1e1e" stroke-width="0.3" textLength="57.4" lengthAdjust="spacingAndGlyphs" text-anchor="start">Prospective</text>
<text x="426.5" y="769.9" font-size="10.2" font-weight="bold" fill="#1e1e1e" stroke="#1e1e1e" stroke-width="0.3" textLength="71.7" lengthAdjust="spacingAndGlyphs" text-anchor="start">Unprospective</text>
<text x="68.7" y="278.4" font-size="10.5" fill="#333" stroke="#333" stroke-width="0.3" textLength="36.6" lengthAdjust="spacingAndGlyphs" text-anchor="start">(n = 27)</text>
<text x="416.5" y="277.5" font-size="10.5" fill="#333" stroke="#333" stroke-width="0.3" textLength="30" lengthAdjust="spacingAndGlyphs" text-anchor="start">(n = 5)</text>
<text x="68.8" y="556" font-size="10.5" fill="#333" stroke="#333" stroke-width="0.3" textLength="30.7" lengthAdjust="spacingAndGlyphs" text-anchor="start">(n = 5)</text>
<text x="416.5" y="555.2" font-size="10.5" fill="#333" stroke="#333" stroke-width="0.3" textLength="36" lengthAdjust="spacingAndGlyphs" text-anchor="start">(n = 11)</text>
<text x="68.8" y="829.3" font-size="10.5" fill="#333" stroke="#333" stroke-width="0.3" textLength="36.5" lengthAdjust="spacingAndGlyphs" text-anchor="start">(n = 16)</text>
<text x="416.3" y="827.4" font-size="10.5" fill="#333" stroke="#333" stroke-width="0.3" textLength="36" lengthAdjust="spacingAndGlyphs" text-anchor="start">(n = 18)</text>
<text x="237" y="223.5" font-size="10.6" fill="#2e2e2e" stroke="#2e2e2e" stroke-width="0.3" textLength="107.8" lengthAdjust="spacingAndGlyphs" text-anchor="start">Yerington district, USA</text>
<circle cx="247.3" cy="236.2" r="4.8" fill="#000"/>
<text x="258.4" y="240.5" font-size="10.6" fill="#2e2e2e" stroke="#2e2e2e" stroke-width="0.3" textLength="92.8" lengthAdjust="spacingAndGlyphs" text-anchor="start">Post-mineralisation</text>
<rect x="243.0" y="252.1" width="8.8" height="8.8" fill="#e02322" stroke="#3a1410" stroke-width="1.1"/>
<text x="258.4" y="260.8" font-size="10.6" fill="#2e2e2e" stroke="#2e2e2e" stroke-width="0.3" textLength="89.6" lengthAdjust="spacingAndGlyphs" text-anchor="start">Syn-mineralisation</text>
<polygon points="242.65,280.5 251.95000000000002,280.5 247.3,271.70000000000005" fill="#000"/>
<text x="258.4" y="279.6" font-size="10.6" fill="#2e2e2e" stroke="#2e2e2e" stroke-width="0.3" textLength="89" lengthAdjust="spacingAndGlyphs" text-anchor="start">Pre-mineralisation</text>
<text x="588.8" y="237.3" font-size="10.6" fill="#2e2e2e" stroke="#2e2e2e" stroke-width="0.3" textLength="76.6" lengthAdjust="spacingAndGlyphs" text-anchor="start">Resolution, USA</text>
<rect x="592.4000000000001" y="247.29999999999998" width="8.6" height="8.6" fill="#e02322" stroke="#3a1410" stroke-width="1.1"/>
<text x="607.3" y="255.5" font-size="10.6" fill="#2e2e2e" stroke="#2e2e2e" stroke-width="0.3" textLength="89.6" lengthAdjust="spacingAndGlyphs" text-anchor="start">Syn-mineralisation</text>
<polygon points="592.0500000000001,275.9 601.35,275.9 596.7,267.1" fill="#000"/>
<text x="607.3" y="275.1" font-size="10.6" fill="#2e2e2e" stroke="#2e2e2e" stroke-width="0.3" textLength="88.6" lengthAdjust="spacingAndGlyphs" text-anchor="start">Pre-mineralisation</text>
<text x="240.3" y="515.2" font-size="10.6" fill="#2e2e2e" stroke="#2e2e2e" stroke-width="0.3" textLength="84.2" lengthAdjust="spacingAndGlyphs" text-anchor="start">Las Bambas, Peru</text>
<polygon points="243.75,535.6 253.05,535.6 248.4,526.8000000000001" fill="#000"/>
<text x="259.5" y="534.4" font-size="10.6" fill="#2e2e2e" stroke="#2e2e2e" stroke-width="0.3" textLength="89.5" lengthAdjust="spacingAndGlyphs" text-anchor="start">Syn-mineralisation</text>
<rect x="244.1" y="546.7" width="8.6" height="8.6" fill="#e02322" stroke="#3a1410" stroke-width="1.1"/>
<text x="259.5" y="553.6" font-size="10.6" fill="#2e2e2e" stroke="#2e2e2e" stroke-width="0.3" textLength="88.5" lengthAdjust="spacingAndGlyphs" text-anchor="start">Pre-mineralisation</text>
<text x="589.6" y="515.8" font-size="10.6" fill="#2e2e2e" stroke="#2e2e2e" stroke-width="0.3" textLength="74.7" lengthAdjust="spacingAndGlyphs" text-anchor="start">Cadia, Australia</text>
<rect x="593.0" y="526.5" width="8.6" height="8.6" fill="#e02322" stroke="#3a1410" stroke-width="1.1"/>
<text x="608.4" y="534.4" font-size="10.6" fill="#2e2e2e" stroke="#2e2e2e" stroke-width="0.3" textLength="89.6" lengthAdjust="spacingAndGlyphs" text-anchor="start">Syn-mineralisation</text>
<polygon points="592.65,554.8 601.9499999999999,554.8 597.3,546.0" fill="#000"/>
<text x="608.4" y="553.6" font-size="10.6" fill="#2e2e2e" stroke="#2e2e2e" stroke-width="0.3" textLength="89" lengthAdjust="spacingAndGlyphs" text-anchor="start">Pre-mineralisation</text>
<text x="241.6" y="775.2" font-size="10.6" fill="#2e2e2e" stroke="#2e2e2e" stroke-width="0.3" textLength="114" lengthAdjust="spacingAndGlyphs" text-anchor="start">Cowal district, Australia</text>
<circle cx="248.5" cy="792.2" r="4.6" fill="#000"/>
<text x="259.1" y="795.9" font-size="10.6" fill="#2e2e2e" stroke="#2e2e2e" stroke-width="0.3" textLength="92.8" lengthAdjust="spacingAndGlyphs" text-anchor="start">Post-mineralisation</text>
<rect x="244.2" y="805.9000000000001" width="8.6" height="8.6" fill="#e02322" stroke="#3a1410" stroke-width="1.1"/>
<text x="259.1" y="814" font-size="10.6" fill="#2e2e2e" stroke="#2e2e2e" stroke-width="0.3" textLength="89.6" lengthAdjust="spacingAndGlyphs" text-anchor="start">Syn-mineralisation</text>
<polygon points="243.85,833.8 253.15,833.8 248.5,825.0" fill="#000"/>
<text x="259.1" y="832.8" font-size="10.6" fill="#2e2e2e" stroke="#2e2e2e" stroke-width="0.3" textLength="89.2" lengthAdjust="spacingAndGlyphs" text-anchor="start">Pre-mineralisation</text>
<text x="589.6" y="794.5" font-size="10.6" fill="#2e2e2e" stroke="#2e2e2e" stroke-width="0.3" textLength="108.4" lengthAdjust="spacingAndGlyphs" text-anchor="start">Northparkes, Australia</text>
<rect x="592.8000000000001" y="804.1" width="8.6" height="8.6" fill="#e02322" stroke="#3a1410" stroke-width="1.1"/>
<text x="608" y="812.7" font-size="10.6" fill="#2e2e2e" stroke="#2e2e2e" stroke-width="0.3" textLength="89.4" lengthAdjust="spacingAndGlyphs" text-anchor="start">Syn-mineralisation</text>
<polygon points="592.45,833.1 601.75,833.1 597.1,824.3000000000001" fill="#000"/>
<text x="608" y="831.9" font-size="10.6" fill="#2e2e2e" stroke="#2e2e2e" stroke-width="0.3" textLength="88.3" lengthAdjust="spacingAndGlyphs" text-anchor="start">Pre-mineralisation</text>
<text x="0" y="0" font-size="12" fill="#2b2b2b" textLength="45" lengthAdjust="spacingAndGlyphs" text-anchor="middle" transform="translate(29.2 146.2) rotate(-90)">Sr/MnO</text>
<text x="0" y="0" font-size="12" fill="#2b2b2b" textLength="45" lengthAdjust="spacingAndGlyphs" text-anchor="middle" transform="translate(29.2 455.7) rotate(-90)">Sr/MnO</text>
<text x="0" y="0" font-size="12" fill="#2b2b2b" textLength="45" lengthAdjust="spacingAndGlyphs" text-anchor="middle" transform="translate(29.2 740.7) rotate(-90)">Sr/MnO</text>
<text x="154.20000000000002" y="854" font-size="12.8" fill="#222" stroke="#222" stroke-width="0.3" textLength="13.8" lengthAdjust="spacingAndGlyphs" text-anchor="start">10</text>
<text x="169.0" y="848.8" font-size="6.5" fill="#666" stroke="#666" stroke-width="0.1" text-anchor="start">1</text>
<text x="259.4" y="854" font-size="12.8" fill="#222" stroke="#222" stroke-width="0.3" textLength="13.8" lengthAdjust="spacingAndGlyphs" text-anchor="start">10</text>
<text x="274.2" y="848.8" font-size="6.5" fill="#666" stroke="#666" stroke-width="0.1" text-anchor="start">2</text>
<text x="359.4" y="854" font-size="12.8" fill="#222" stroke="#222" stroke-width="0.3" textLength="13.8" lengthAdjust="spacingAndGlyphs" text-anchor="start">10</text>
<text x="374.2" y="848.8" font-size="6.5" fill="#666" stroke="#666" stroke-width="0.1" text-anchor="start">3</text>
<text x="502.79999999999995" y="852.6" font-size="12.8" fill="#222" stroke="#222" stroke-width="0.3" textLength="13.8" lengthAdjust="spacingAndGlyphs" text-anchor="start">10</text>
<text x="517.6" y="847.4" font-size="6.5" fill="#666" stroke="#666" stroke-width="0.1" text-anchor="start">1</text>
<text x="607.9" y="852.6" font-size="12.8" fill="#222" stroke="#222" stroke-width="0.3" textLength="13.8" lengthAdjust="spacingAndGlyphs" text-anchor="start">10</text>
<text x="622.7" y="847.4" font-size="6.5" fill="#666" stroke="#666" stroke-width="0.1" text-anchor="start">2</text>
<text x="710.4" y="852.6" font-size="12.8" fill="#222" stroke="#222" stroke-width="0.3" textLength="13.8" lengthAdjust="spacingAndGlyphs" text-anchor="start">10</text>
<text x="725.2" y="847.4" font-size="6.5" fill="#666" stroke="#666" stroke-width="0.1" text-anchor="start">3</text>
<text x="204.3" y="876.5" font-size="12" fill="#2b2b2b" stroke="#2b2b2b" stroke-width="0.3" textLength="23.1" lengthAdjust="spacingAndGlyphs" text-anchor="start">Sr/Y</text>
<text x="552.5" y="875.8" font-size="12" fill="#2b2b2b" stroke="#2b2b2b" stroke-width="0.3" textLength="23.7" lengthAdjust="spacingAndGlyphs" text-anchor="start">Sr/Y</text>
</svg></body></html>
